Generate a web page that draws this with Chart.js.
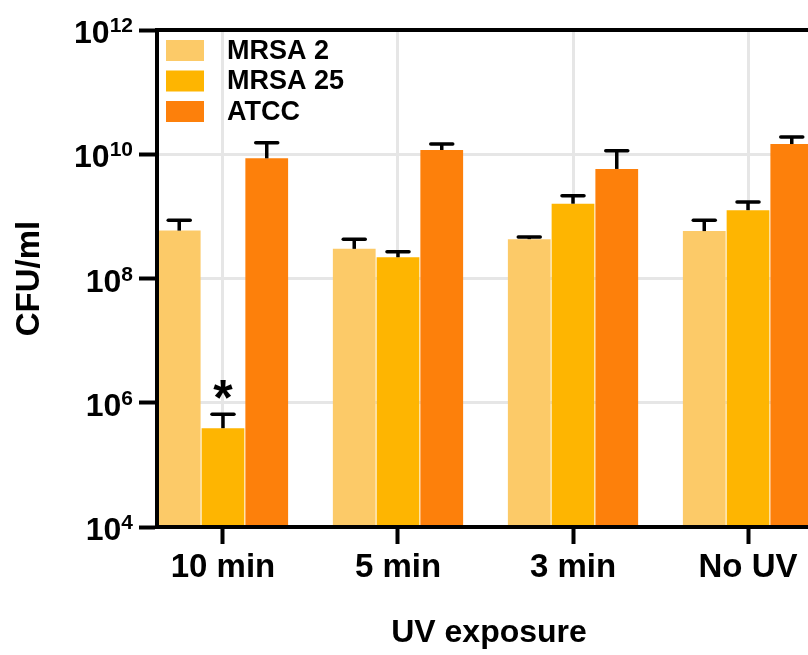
<!DOCTYPE html>
<html>
<head>
<meta charset="utf-8">
<script src="https://cdn.jsdelivr.net/npm/chart.js@4.4.1/dist/chart.umd.min.js"></script>
<style>
  html, body { margin: 0; padding: 0; background: #fff; overflow: hidden; }
  #wrap { width: 840px; height: 655px; }
</style>
</head>
<body>
<div id="wrap"><canvas id="chart"></canvas></div>
<script>
// data
const categories = ['10 min', '5 min', '3 min', 'No UV']
const seriesNames = ['MRSA 2', 'MRSA 25', 'ATCC']
const seriesColors = ['#fcca68', '#feb501', '#fd800b']

const mrsa2 = [5.9e8, 3.0e8, 4.3e8, 5.8e8]
const mrsa25 = [3.9e5, 2.2e8, 1.6e9, 1.26e9]
const atcc = [8.6e9, 1.17e10, 5.8e9, 1.46e10]

// upper end of error bars
const mrsa2Err = [8.7e8, 4.3e8, 4.65e8, 8.7e8]
const mrsa25Err = [6.5e5, 2.7e8, 2.15e9, 1.7e9]
const atccErr = [1.53e10, 1.46e10, 1.14e10, 1.89e10]

const yTicks = [1e4, 1e6, 1e8, 1e10, 1e12]
const marks = [{ series: 1, index: 0, text: '*' }]

const FONT = "'Liberation Sans', Arial, Helvetica, sans-serif"
const seriesValues = [mrsa2, mrsa25, atcc]
const seriesErrors = [mrsa2Err, mrsa25Err, atccErr]

// error bars, asterisk, frame and legend
const extras = {
  id: 'extras',
  afterDatasetsDraw(chart) {
    const ctx = chart.ctx
    const y = chart.scales.y
    const area = chart.chartArea
    ctx.save()
    ctx.strokeStyle = '#000'
    ctx.lineWidth = 3.5
    chart.data.datasets.forEach((ds, d) => {
      const meta = chart.getDatasetMeta(d)
      meta.data.forEach((bar, i) => {
        const top = y.getPixelForValue(seriesErrors[d][i])
        ctx.lineCap = 'butt'
        ctx.beginPath()
        ctx.moveTo(bar.x, bar.y)
        ctx.lineTo(bar.x, top)
        ctx.stroke()
        ctx.lineCap = 'round'
        ctx.beginPath()
        ctx.moveTo(bar.x - 11, top)
        ctx.lineTo(bar.x + 11, top)
        ctx.stroke()
      })
    })

    ctx.fillStyle = '#000'
    ctx.textAlign = 'center'
    ctx.textBaseline = 'alphabetic'
    ctx.font = 'bold 50px ' + FONT
    marks.forEach(m => {
      const bar = chart.getDatasetMeta(m.series).data[m.index]
      const top = y.getPixelForValue(seriesErrors[m.series][m.index])
      ctx.fillText(m.text, bar.x, top + 1)
    })

    // frame
    ctx.lineCap = 'square'
    ctx.lineWidth = 4
    ctx.beginPath()
    ctx.moveTo(area.left, area.bottom)
    ctx.lineTo(area.left, area.top)
    ctx.lineTo(area.right, area.top)
    ctx.lineTo(area.right, area.bottom)
    ctx.lineTo(area.left, area.bottom)
    ctx.stroke()

    // legend
    ctx.textAlign = 'left'
    ctx.font = 'bold 27px ' + FONT
    chart.data.datasets.forEach((ds, d) => {
      const top = area.top + 10 + d * 30.5
      ctx.fillStyle = ds.backgroundColor
      ctx.fillRect(area.left + 9, top, 38, 21)
      ctx.fillStyle = '#000'
      ctx.fillText(ds.label, area.left + 70, top + 18.5)
    })
    ctx.restore()
  },
  afterDraw(chart) {
    const ctx = chart.ctx
    const y = chart.scales.y
    ctx.save()
    ctx.fillStyle = '#000'
    ctx.textBaseline = 'alphabetic'
    yTicks.forEach(v => {
      const py = y.getPixelForValue(v)
      const exp = String(Math.round(Math.log10(v)))
      ctx.font = 'bold 21px ' + FONT
      ctx.textAlign = 'right'
      ctx.fillText(exp, 133, py + 2)
      const ew = ctx.measureText(exp).width
      ctx.font = 'bold 32px ' + FONT
      ctx.fillText('10', 133 - ew, py + 13)
    })
    ctx.restore()
  }
}

new Chart(document.getElementById('chart'), {
  type: 'bar',
  data: {
    datasets: seriesNames.map((name, d) => ({
      label: name,
      data: categories.map((c, i) => ({ x: i, y: seriesValues[d][i] })),
      backgroundColor: seriesColors[d],
      borderWidth: 0,
      categoryPercentage: 0.75,
      barPercentage: 0.977
    }))
  },
  options: {
    responsive: true,
    maintainAspectRatio: false,
    animation: false,
    layout: { padding: { top: 30, right: 19, left: 0, bottom: 0 } },
    plugins: {
      legend: { display: false },
      tooltip: { enabled: false }
    },
    scales: {
      x: {
        type: 'linear',
        min: -0.377,
        max: 3.417,
        offset: false,
        afterBuildTicks: s => { s.ticks = categories.map((c, i) => ({ value: i })) },
        afterFit: s => { s.height = 128 },
        ticks: {
          callback: v => categories[v],
          font: { family: FONT, size: 33, weight: 'bold' },
          color: '#000',
          padding: 4,
          maxRotation: 0,
          autoSkip: false
        },
        grid: { offset: false, color: '#e6e6e6', lineWidth: 3, tickLength: 17, tickColor: '#000', tickWidth: 4 },
        border: { color: '#000', width: 4 },
        title: {
          display: true,
          text: 'UV exposure',
          font: { family: FONT, size: 32, weight: 'bold' },
          color: '#000',
          padding: { top: 0, bottom: 3 }
        }
      },
      y: {
        type: 'logarithmic',
        min: 1e4,
        max: 1e12,
        afterBuildTicks: s => { s.ticks = yTicks.map(v => ({ value: v })) },
        afterFit: s => { s.width = 157 },
        ticks: { display: false },
        grid: { color: '#e6e6e6', lineWidth: 3, tickLength: 18, tickColor: '#000', tickWidth: 4 },
        border: { color: '#000', width: 4 },
        title: {
          display: true,
          text: 'CFU/ml',
          font: { family: FONT, size: 33, weight: 'bold' },
          color: '#000',
          padding: { top: 10, bottom: 0 }
        }
      }
    }
  },
  plugins: [extras]
})
</script>
</body>
</html>
